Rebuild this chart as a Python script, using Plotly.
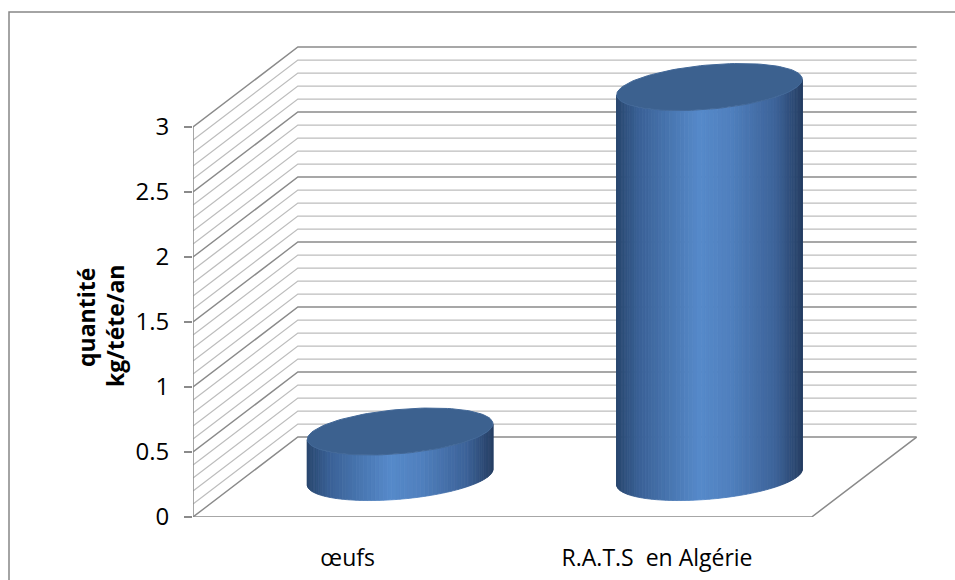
import numpy as np
import plotly.graph_objects as go

# ---- data -------------------------------------------------------------
categories = ["œufs", "R.A.T.S  en Algérie"]
values = [0.35, 3.0]
y_tickvals = [0, 0.5, 1, 1.5, 2, 2.5, 3]
y_ticktext = ["0", "0.5", "1", "1.5", "2", "2.5", "3"]
grid_step = 0.1
major_step = 0.5
y_top = 3.0

# ---- oblique 3-D projection (in axis units) ---------------------------
DEPTH_X = 0.339          # horizontal shift of the back plane, category units
DEPTH_Y = 0.615          # vertical shift of the back plane, value units
X_LO, X_HI = -0.5, len(categories) - 0.5
RADIUS_X = 0.283         # cylinder half width, category units
RADIUS_D = 0.294         # cylinder radius as a fraction of the depth

MINOR_COLOR = "#bdbdbd"
MAJOR_COLOR = "#8a8a8a"
TOP_COLOR = "rgb(60,97,143)"

# horizontal shading across the cylinder body
SHADE_STOPS = [
    (0.00, (40, 70, 110)),
    (0.12, (58, 97, 150)),
    (0.45, (86, 138, 202)),
    (0.62, (79, 127, 189)),
    (0.86, (60, 98, 152)),
    (1.00, (38, 63, 100)),
]


def shade(t):
    t = min(max(t, 0.0), 1.0)
    for (t0, c0), (t1, c1) in zip(SHADE_STOPS[:-1], SHADE_STOPS[1:]):
        if t <= t1:
            f = (t - t0) / (t1 - t0) if t1 > t0 else 0
            c = [round(a + (b - a) * f) for a, b in zip(c0, c1)]
            return f"rgb({c[0]},{c[1]},{c[2]})"
    c = SHADE_STOPS[-1][1]
    return f"rgb({c[0]},{c[1]},{c[2]})"


def ring(cx, level, theta):
    """Circle of the cylinder at height `level`, seen in oblique projection."""
    x = cx + 0.5 * DEPTH_X + RADIUS_X * np.cos(theta) + RADIUS_D * DEPTH_X * np.sin(theta)
    y = level + 0.5 * DEPTH_Y + RADIUS_D * DEPTH_Y * np.sin(theta)
    return x, y


fig = go.Figure()

# ---- walls: side wall diagonals + back wall horizontals ----------------
levels = np.round(np.arange(0, y_top + 1e-9, grid_step), 3)
minor_x, minor_y, major_x, major_y = [], [], [], []
for lv in levels:
    xs = [X_LO, X_LO + DEPTH_X, X_HI + DEPTH_X, None]
    ys = [lv, lv + DEPTH_Y, lv + DEPTH_Y, None]
    if abs(lv / major_step - round(lv / major_step)) < 1e-6:
        major_x += xs
        major_y += ys
    else:
        minor_x += xs
        minor_y += ys

fig.add_trace(go.Scatter(x=minor_x, y=minor_y, mode="lines",
                         line=dict(color=MINOR_COLOR, width=1.3),
                         hoverinfo="skip", showlegend=False))
fig.add_trace(go.Scatter(x=major_x, y=major_y, mode="lines",
                         line=dict(color=MAJOR_COLOR, width=1.4),
                         hoverinfo="skip", showlegend=False))

# floor outline (front edge, right edge) and front-left vertical edge
fig.add_trace(go.Scatter(
    x=[X_LO, X_HI, X_HI + DEPTH_X, None, X_LO, X_LO],
    y=[0, 0, DEPTH_Y, None, 0, y_top],
    mode="lines", line=dict(color=MAJOR_COLOR, width=1.5),
    hoverinfo="skip", showlegend=False))

# ---- cylinders ---------------------------------------------------------
theta0 = np.arctan2(RADIUS_D * DEPTH_X, RADIUS_X)
half_w = np.hypot(RADIUS_X, RADIUS_D * DEPTH_X)
n_strips = 70
edges = np.linspace(theta0 + np.pi, theta0 + 2 * np.pi, n_strips + 1)

for i, val in enumerate(values):
    cx = float(i)
    left = cx + 0.5 * DEPTH_X - half_w
    for k in range(n_strips):
        sub = np.linspace(edges[k], edges[k + 1], 4)
        bx, by = ring(cx, 0.0, sub)
        tx, ty = ring(cx, val, sub[::-1])
        px = np.concatenate([bx, tx, bx[:1]])
        py = np.concatenate([by, ty, by[:1]])
        col = shade((np.mean(bx) - left) / (2 * half_w))
        fig.add_trace(go.Scatter(x=px, y=py, mode="lines", fill="toself",
                                 fillcolor=col, line=dict(color=col, width=0.8),
                                 hoverinfo="skip", showlegend=False))
    th = np.linspace(0, 2 * np.pi, 120)
    ex, ey = ring(cx, val, th)
    fig.add_trace(go.Scatter(x=ex, y=ey, mode="lines", fill="toself",
                             fillcolor=TOP_COLOR,
                             line=dict(color="rgb(66,104,152)", width=1),
                             hoverinfo="skip", showlegend=False,
                             name=categories[i]))

# ---- layout ------------------------------------------------------------
FONT = "'Open Sans', 'Noto Sans', sans-serif"
W, H = 955, 580
M_L, M_R, M_T, M_B = 193, 35, 36, 63
x_range = [X_LO, X_HI + 0.35]
y_range = [0, 3.7]

plot_w = W - M_L - M_R
plot_h = H - M_T - M_B

fig.update_layout(
    width=W, height=H,
    margin=dict(l=M_L, r=M_R, t=M_T, b=M_B, autoexpand=False),
    paper_bgcolor="white", plot_bgcolor="white",
    font=dict(family=FONT, size=22, color="#000000"),
    xaxis=dict(range=x_range, showgrid=False, zeroline=False, showline=False,
               automargin=False,
               tickvals=list(range(len(categories))), ticktext=categories,
               ticks="", tickfont=dict(family=FONT, size=23), ticklabelstandoff=25),
    yaxis=dict(range=y_range, showgrid=False, zeroline=False, showline=False,
               automargin=False,
               tickvals=y_tickvals, ticktext=y_ticktext,
               ticks="outside", ticklen=8, tickcolor=MAJOR_COLOR, tickwidth=1.5,
               tickfont=dict(family=FONT, size=24), ticklabelstandoff=10),
    showlegend=False,
    shapes=[dict(type="rect", xref="paper", yref="paper",
                 x0=(9 - M_L) / plot_w, x1=1.2,
                 y0=-0.3, y1=(H - M_B - 12) / plot_h,
                 line=dict(color="#868686", width=1.5), layer="below")],
    annotations=[
        dict(text="<b>quantité</b>", textangle=-90, xref="paper", yref="paper",
             x=(86 - M_L) / plot_w, y=(H - M_B - 318) / plot_h,
             xanchor="center", yanchor="middle",
             showarrow=False, font=dict(family=FONT, size=23)),
        dict(text="<b>kg/téte/an</b>", textangle=-90, xref="paper", yref="paper",
             x=(115 - M_L) / plot_w, y=(H - M_B - 326) / plot_h,
             xanchor="center", yanchor="middle",
             showarrow=False, font=dict(family=FONT, size=23)),
    ],
)

fig.write_html("out.html")
